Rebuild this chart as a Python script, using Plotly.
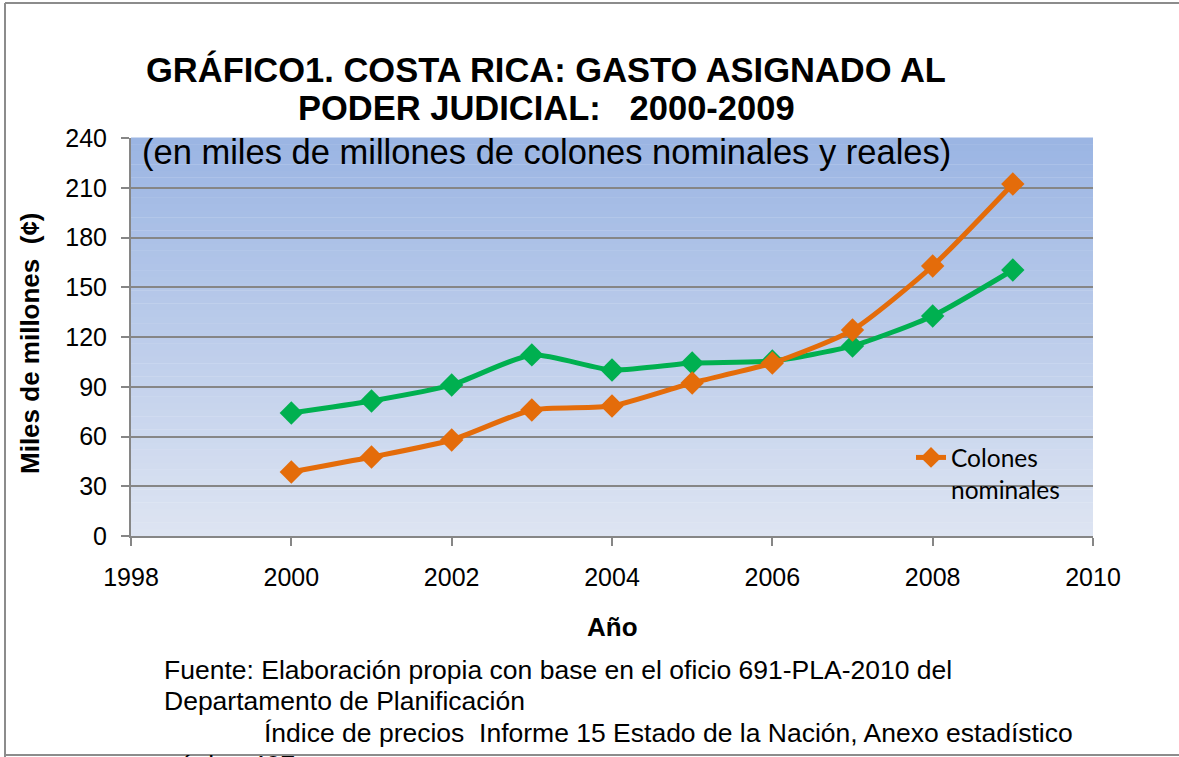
import plotly.graph_objects as go

years = [2000, 2001, 2002, 2003, 2004, 2005, 2006, 2007, 2008, 2009]
nominales = [38.6, 47.6, 57.9, 76.0, 78.4, 92.3, 104.3, 124.2, 162.8, 212.3]
reales = [74.2, 81.4, 91.1, 109.2, 100.1, 104.3, 105.5, 114.6, 132.7, 160.4]

y_ticks = [0, 30, 60, 90, 120, 150, 180, 210, 240]
x_ticks = [1998, 2000, 2002, 2004, 2006, 2008, 2010]

ORANGE = "#E46C0A"
GREEN = "#00B050"
GRID = "#868686"
FONT = "Liberation Sans, Arial, sans-serif"

fig = go.Figure()
fig.add_trace(go.Scatter(
    x=years, y=reales, name="Colones reales", mode="lines+markers",
    line=dict(color=GREEN, width=5, shape="spline", smoothing=0.6),
    marker=dict(symbol="diamond", size=18, color=GREEN),
    showlegend=False,
))
fig.add_trace(go.Scatter(
    x=years, y=nominales, name="Colones<br>nominales", mode="lines+markers",
    line=dict(color=ORANGE, width=5, shape="spline", smoothing=0.6),
    marker=dict(symbol="diamond", size=18, color=ORANGE),
))

# vertical gradient plot background
shapes = []
n = 60
top = (155, 181, 227)
bot = (221, 228, 242)
for i in range(n):
    t = i / (n - 1)
    c = tuple(round(top[k] + (bot[k] - top[k]) * t) for k in range(3))
    shapes.append(dict(type="rect", xref="x domain", yref="y domain",
                       x0=0, x1=1, y0=1 - (i + 1) / n, y1=1 - i / n + 0.001,
                       fillcolor="rgb(%d,%d,%d)" % c, line=dict(width=0),
                       layer="below"))


def px(x):
    return (x - 131) / 962


def py(y):
    return (536 - y) / 398


# outer frame
shapes.append(dict(type="line", xref="paper", yref="paper",
                   x0=px(5), x1=px(5), y0=py(757), y1=py(3),
                   line=dict(color="#8c8c8c", width=2)))
shapes.append(dict(type="line", xref="paper", yref="paper",
                   x0=px(5), x1=px(1179), y0=py(3), y1=py(3),
                   line=dict(color="#8c8c8c", width=2)))
shapes.append(dict(type="line", xref="paper", yref="paper",
                   x0=px(5), x1=px(1179), y0=py(755), y1=py(755),
                   line=dict(color="#8c8c8c", width=2)))

TXT = 26.5
annotations = [
    dict(text="<b>GRÁFICO1. COSTA RICA: GASTO ASIGNADO AL</b>", x=px(546), y=py(70),
         font=dict(size=34.5, family=FONT, color="black")),
    dict(text="<b>PODER JUDICIAL:\u00a0\u00a0 2000-2009</b>", x=px(546), y=py(108),
         font=dict(size=34.5, family=FONT, color="black")),
    dict(text="(en miles de millones de colones nominales y reales)", x=px(546), y=py(152),
         font=dict(size=34.5, family=FONT, color="black")),
    dict(text="<b>Miles de millones\u00a0 (¢)</b>", x=px(30), y=py(343), textangle=-90,
         font=dict(size=26, family=FONT, color="black")),
    dict(text="<b>Año</b>", x=px(612), y=py(627),
         font=dict(size=26, family=FONT, color="black")),
    dict(text="Fuente: Elaboración propia con base en el oficio 691-PLA-2010 del",
         x=px(162), y=py(670), xanchor="left",
         font=dict(size=TXT, family=FONT, color="black")),
    dict(text="Departamento de Planificación",
         x=px(162), y=py(701), xanchor="left",
         font=dict(size=TXT, family=FONT, color="black")),
    dict(text="Índice de precios\u00a0 Informe 15 Estado de la Nación, Anexo estadístico",
         x=px(262), y=py(733), xanchor="left",
         font=dict(size=TXT, family=FONT, color="black")),
    dict(text="página 407",
         x=px(162), y=py(765), xanchor="left",
         font=dict(size=TXT, family=FONT, color="black")),
]
for a in annotations:
    a.update(xref="paper", yref="paper", showarrow=False)
    a.setdefault("xanchor", "center")
    a.setdefault("yanchor", "middle")

fig.update_layout(
    width=1179, height=757,
    margin=dict(l=131, r=86, t=138, b=221),
    paper_bgcolor="white", plot_bgcolor="rgba(0,0,0,0)",
    font=dict(family=FONT, color="black"),
    shapes=shapes, annotations=annotations,
    legend=dict(x=px(911), y=py(435), xanchor="left", yanchor="top",
                bgcolor="rgba(0,0,0,0)", valign="top",
                font=dict(size=24.5, family="Lato, Open Sans, sans-serif", color="black")),
    xaxis=dict(range=[1998, 2010], tickvals=x_ticks, showgrid=False,
               showline=True, linecolor=GRID, linewidth=2,
               ticks="outside", ticklen=8, tickcolor=GRID, tickwidth=2,
               ticklabelstandoff=10,
               tickfont=dict(size=25, family=FONT, color="black"), zeroline=False),
    yaxis=dict(range=[0, 240], tickvals=y_ticks, showgrid=True, gridcolor=GRID, gridwidth=2,
               showline=True, linecolor=GRID, linewidth=2,
               ticks="outside", ticklen=8, tickcolor=GRID, tickwidth=2,
               ticklabelstandoff=9,
               tickfont=dict(size=25, family=FONT, color="black"), zeroline=False),
)

fig.write_html("out.html", config={"displayModeBar": False},
               post_script="document.body.style.margin='0';document.body.style.overflow='hidden';")
